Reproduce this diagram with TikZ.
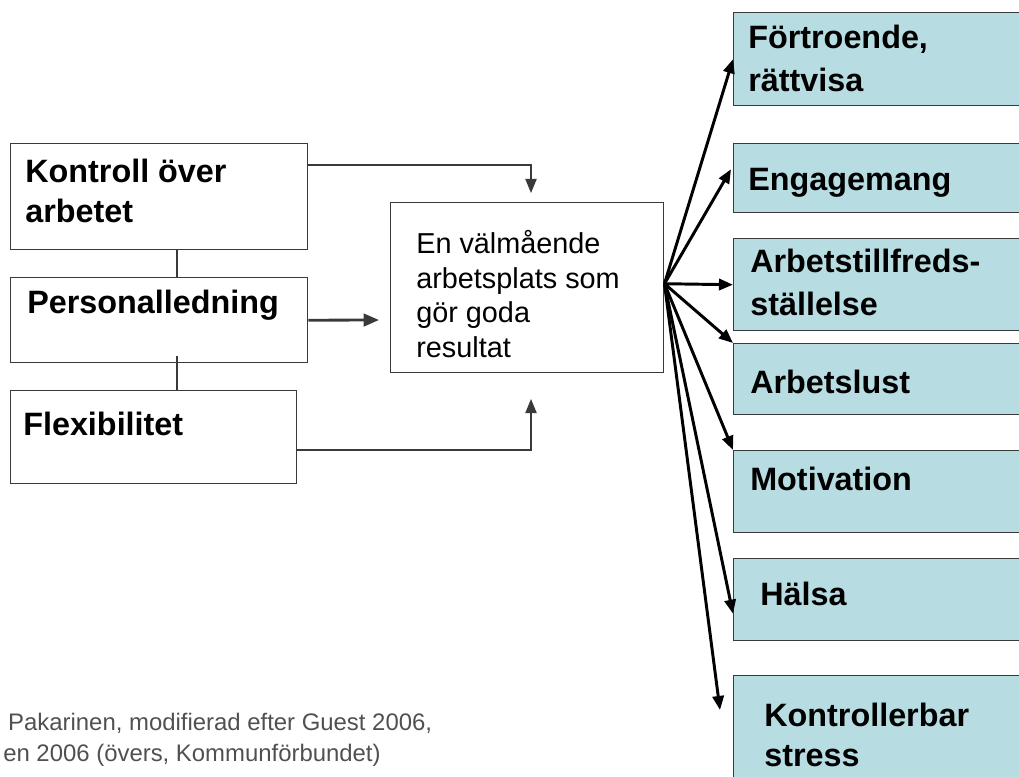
\documentclass[tikz,border=0pt]{standalone}
\usepackage{fontspec}
\setmainfont{Liberation Sans}
\usetikzlibrary{arrows.meta, positioning, calc}
\definecolor{boxblue}{HTML}{B7DDE2}
\definecolor{linegrey}{HTML}{3A3A3A}
\definecolor{notegrey}{HTML}{505050}

\begin{document}
\begin{tikzpicture}[x=0.025cm, y=-0.025cm,
  wbox/.style={draw=linegrey, line width=1pt, fill=white, anchor=north west,
               inner sep=0pt},
  outbox/.style={wbox, fill=boxblue, minimum width=7.5cm},
  lbl/.style={anchor=base west, inner sep=0pt, align=left,
              font=\fontsize{23}{28}\selectfont\bfseries},
  arr/.style={-{Triangle[length=10pt, width=8pt]}, line width=0.9pt, linegrey},
  fanarr/.style={-{Triangle[length=10pt, width=8pt]}, line width=2.1pt, black}
]
  \clip (0,0) rectangle (1019,776);

  % Factors on the left
  \node[wbox, minimum width=7.425cm, minimum height=2.65cm] (kon) at (10,143) {};
  \node[wbox, minimum width=7.425cm, minimum height=2.125cm] (per) at (10,277) {};
  \node[wbox, minimum width=7.15cm, minimum height=2.325cm] (flx) at (10,390) {};
  \node[lbl] (konT) at (25,222) {Kontroll över\\arbetet};
  \node[lbl] (perT) at (27,313) {Personalledning};
  \node[lbl] (flxT) at (23,435) {Flexibilitet};
  \draw[linegrey, line width=0.8pt] ($(kon.south west)+(167,0)$) -- ($(per.north west)+(167,0)$);
  \draw[linegrey, line width=0.8pt] ($(per.south west)+(167,-7)$) -- ($(flx.north west)+(167,0)$);

  % Workplace in the middle
  \node[wbox, minimum width=6.825cm, minimum height=4.25cm] (mid) at (390,202) {};
  \node[lbl, font=\fontsize{20.5}{24.5}\selectfont] (midT) at (416,357)
    {En välmående\\arbetsplats som\\gör goda\\resultat};
  \coordinate (intop) at (531,193);
  \coordinate (inbot) at (531,399);
  \coordinate (inmid) at (379,320);
  \draw[arr] ($(kon.north east)+(0,22)$) -| (intop);
  \draw[arr] ($(flx.north east)+(0,60)$) -| (inbot);
  \draw[arr, line width=2pt, -{Triangle[length=11pt, width=9pt]}]
    (per.east) -- (inmid);

  % Outcomes on the right
  \node[outbox, minimum height=2.325cm] (ft) at (733,12) {};
  \node[outbox, minimum height=1.725cm] (eng) at (733,143) {};
  \node[outbox, minimum height=2.3cm] (arb) at (733,238) {};
  \node[outbox, minimum height=1.775cm] (lust) at (733,343) {};
  \node[outbox, minimum height=2.05cm] (mot) at (733,450) {};
  \node[outbox, minimum height=2.05cm] (hal) at (733,558) {};
  \node[outbox, minimum height=2.875cm] (ks) at (733,675) {};
  \node[lbl, font=\fontsize{23}{30.5}\selectfont\bfseries] (ftT) at (748,91)
    {Förtroende,\\rättvisa};
  \node[lbl] (engT) at (748,190) {Engagemang};
  \node[lbl, font=\fontsize{23}{30.5}\selectfont\bfseries] (arbT) at (750,315)
    {Arbetstillfreds-\\ställelse};
  \node[lbl] (lustT) at (750,393) {Arbetslust};
  \node[lbl] (motT) at (750,490) {Motivation};
  \node[lbl] (halT) at (760,605) {Hälsa};
  \node[lbl] (ksT) at (764,766) {Kontrollerbar\\stress};

  % Fan of arrows
  \coordinate (fan) at ($(mid.east)+(0,-4)$);
  \draw[fanarr] (fan) -- (ft.west);
  \draw[fanarr] (fan) -- ($(eng.west)+(-2,-9)$);
  \draw[fanarr] (fan) -- (arb.west);
  \draw[fanarr] (fan) -- (lust.north west);
  \draw[fanarr] (fan) -- (mot.north west);
  \draw[fanarr] (fan) -- ($(hal.west)+(0,14)$);
  \draw[fanarr] (fan) -- ($(ks.north west)+(-13,35)$);

  % Source
  \node[anchor=base west, inner sep=0pt, align=left, text=notegrey,
        font=\fontsize{17}{22}\selectfont] (src) at (3,761)
    {\hspace*{3.5pt}Pakarinen, modifierad efter Guest 2006,\\en 2006 (övers, Kommunförbundet)};
\end{tikzpicture}
\end{document}
